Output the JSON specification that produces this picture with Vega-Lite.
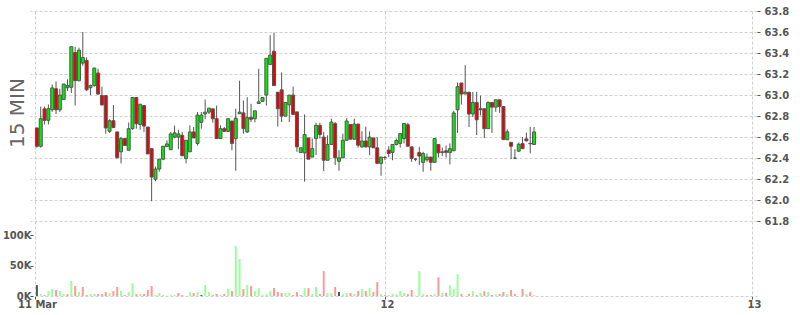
{
  "$schema": "https://vega.github.io/schema/vega-lite/v6.json",
  "width": 727,
  "height": 285,
  "autosize": {"type": "none"},
  "padding": {"left": 30, "top": 11, "right": 43, "bottom": 19},
  "background": "white",
  "config": {"view": {"stroke": null}},
  "data": {
    "values": [
      {"t":"2021-03-11 01:15","o":62.687,"h":62.69,"l":62.50,"c":62.513,"v":18000},
      {"t":"2021-03-11 01:30","o":62.513,"h":62.89,"l":62.50,"c":62.775,"v":3300},
      {"t":"2021-03-11 01:45","o":62.869,"h":62.89,"l":62.72,"c":62.759,"v":1600},
      {"t":"2021-03-11 02:00","o":62.76,"h":62.91,"l":62.72,"c":62.87,"v":8200},
      {"t":"2021-03-11 02:15","o":62.86,"h":63.10,"l":62.84,"c":63.068,"v":11500},
      {"t":"2021-03-11 02:30","o":63.06,"h":63.13,"l":62.82,"c":62.86,"v":9900},
      {"t":"2021-03-11 02:45","o":62.86,"h":63.06,"l":62.84,"c":63.0,"v":8200},
      {"t":"2021-03-11 03:00","o":62.957,"h":63.105,"l":62.957,"c":63.105,"v":3300},
      {"t":"2021-03-11 03:15","o":63.07,"h":63.15,"l":63.04,"c":63.09,"v":3300},
      {"t":"2021-03-11 03:30","o":63.074,"h":63.46,"l":63.02,"c":63.46,"v":25000},
      {"t":"2021-03-11 03:45","o":63.405,"h":63.46,"l":62.90,"c":63.137,"v":16500},
      {"t":"2021-03-11 04:00","o":63.137,"h":63.45,"l":63.13,"c":63.427,"v":6600},
      {"t":"2021-03-11 04:15","o":63.304,"h":63.60,"l":63.28,"c":63.357,"v":15000},
      {"t":"2021-03-11 04:30","o":63.33,"h":63.36,"l":63.04,"c":63.05,"v":1600},
      {"t":"2021-03-11 04:45","o":63.07,"h":63.10,"l":63.0,"c":63.09,"v":3300},
      {"t":"2021-03-11 05:00","o":63.09,"h":63.26,"l":63.08,"c":63.257,"v":3300},
      {"t":"2021-03-11 05:15","o":63.21,"h":63.25,"l":63.0,"c":63.01,"v":3300},
      {"t":"2021-03-11 05:30","o":62.995,"h":63.08,"l":62.90,"c":62.907,"v":3300},
      {"t":"2021-03-11 05:45","o":62.995,"h":62.995,"l":62.633,"c":62.687,"v":6600},
      {"t":"2021-03-11 06:00","o":62.655,"h":62.77,"l":62.64,"c":62.756,"v":5000},
      {"t":"2021-03-11 06:15","o":62.756,"h":62.905,"l":62.69,"c":62.69,"v":8200},
      {"t":"2021-03-11 06:30","o":62.649,"h":62.65,"l":62.40,"c":62.403,"v":15000},
      {"t":"2021-03-11 06:45","o":62.46,"h":62.60,"l":62.35,"c":62.586,"v":8200},
      {"t":"2021-03-11 07:00","o":62.586,"h":62.59,"l":62.52,"c":62.52,"v":1600},
      {"t":"2021-03-11 07:15","o":62.475,"h":62.74,"l":62.475,"c":62.68,"v":6600},
      {"t":"2021-03-11 07:30","o":62.68,"h":62.98,"l":62.67,"c":62.977,"v":21000},
      {"t":"2021-03-11 07:45","o":62.977,"h":62.977,"l":62.68,"c":62.728,"v":3300},
      {"t":"2021-03-11 08:00","o":62.72,"h":62.913,"l":62.67,"c":62.913,"v":3300},
      {"t":"2021-03-11 08:15","o":62.90,"h":62.90,"l":62.65,"c":62.705,"v":3300},
      {"t":"2021-03-11 08:30","o":62.696,"h":62.696,"l":62.44,"c":62.44,"v":9900},
      {"t":"2021-03-11 08:45","o":62.49,"h":62.49,"l":61.99,"c":62.22,"v":16500},
      {"t":"2021-03-11 09:00","o":62.20,"h":62.32,"l":62.18,"c":62.296,"v":1600},
      {"t":"2021-03-11 09:15","o":62.296,"h":62.39,"l":62.27,"c":62.39,"v":5000},
      {"t":"2021-03-11 09:30","o":62.39,"h":62.513,"l":62.38,"c":62.513,"v":1600},
      {"t":"2021-03-11 09:45","o":62.51,"h":62.57,"l":62.51,"c":62.535,"v":500},
      {"t":"2021-03-11 10:00","o":62.48,"h":62.65,"l":62.48,"c":62.63,"v":1600},
      {"t":"2021-03-11 10:15","o":62.60,"h":62.71,"l":62.59,"c":62.64,"v":1600},
      {"t":"2021-03-11 10:30","o":62.60,"h":62.67,"l":62.485,"c":62.63,"v":5000},
      {"t":"2021-03-11 10:45","o":62.617,"h":62.649,"l":62.42,"c":62.422,"v":1600},
      {"t":"2021-03-11 11:00","o":62.397,"h":62.57,"l":62.35,"c":62.57,"v":300},
      {"t":"2021-03-11 11:15","o":62.46,"h":62.712,"l":62.46,"c":62.649,"v":6600},
      {"t":"2021-03-11 11:30","o":62.649,"h":62.696,"l":62.59,"c":62.592,"v":5000},
      {"t":"2021-03-11 11:45","o":62.54,"h":62.838,"l":62.52,"c":62.81,"v":6600},
      {"t":"2021-03-11 12:00","o":62.74,"h":62.838,"l":62.68,"c":62.81,"v":1600},
      {"t":"2021-03-11 12:15","o":62.82,"h":62.957,"l":62.77,"c":62.838,"v":18000},
      {"t":"2021-03-11 12:30","o":62.838,"h":62.879,"l":62.82,"c":62.875,"v":6600},
      {"t":"2021-03-11 12:45","o":62.869,"h":62.869,"l":62.737,"c":62.775,"v":1600},
      {"t":"2021-03-11 13:00","o":62.775,"h":62.90,"l":62.586,"c":62.586,"v":3300},
      {"t":"2021-03-11 13:15","o":62.586,"h":62.712,"l":62.586,"c":62.68,"v":1600},
      {"t":"2021-03-11 13:30","o":62.68,"h":62.696,"l":62.649,"c":62.655,"v":3300},
      {"t":"2021-03-11 13:45","o":62.655,"h":62.775,"l":62.649,"c":62.775,"v":11500},
      {"t":"2021-03-11 14:00","o":62.753,"h":62.753,"l":62.475,"c":62.54,"v":8200},
      {"t":"2021-03-11 14:15","o":62.586,"h":62.87,"l":62.28,"c":62.78,"v":82000},
      {"t":"2021-03-11 14:30","o":62.822,"h":63.137,"l":62.822,"c":62.838,"v":61000},
      {"t":"2021-03-11 14:45","o":62.83,"h":62.948,"l":62.633,"c":62.68,"v":11500},
      {"t":"2021-03-11 15:00","o":62.649,"h":62.98,"l":62.64,"c":62.786,"v":18000},
      {"t":"2021-03-11 15:15","o":62.786,"h":62.917,"l":62.743,"c":62.77,"v":16500},
      {"t":"2021-03-11 15:30","o":62.775,"h":62.85,"l":62.74,"c":62.85,"v":8200},
      {"t":"2021-03-11 15:45","o":62.92,"h":63.25,"l":62.92,"c":62.935,"v":13000},
      {"t":"2021-03-11 16:00","o":62.94,"h":62.98,"l":62.94,"c":62.977,"v":1600},
      {"t":"2021-03-11 16:15","o":63.0,"h":63.35,"l":62.90,"c":63.35,"v":3300},
      {"t":"2021-03-11 16:30","o":63.29,"h":63.57,"l":63.29,"c":63.38,"v":8200},
      {"t":"2021-03-11 16:45","o":63.417,"h":63.594,"l":63.09,"c":63.09,"v":13000},
      {"t":"2021-03-11 17:00","o":63.027,"h":63.03,"l":62.70,"c":62.87,"v":6600},
      {"t":"2021-03-11 17:15","o":63.05,"h":63.216,"l":62.743,"c":62.80,"v":5000},
      {"t":"2021-03-11 17:30","o":62.80,"h":62.93,"l":62.80,"c":62.93,"v":5000},
      {"t":"2021-03-11 17:45","o":62.907,"h":63.0,"l":62.743,"c":63.0,"v":5000},
      {"t":"2021-03-11 18:00","o":63.0,"h":63.08,"l":62.816,"c":62.816,"v":1600},
      {"t":"2021-03-11 18:15","o":62.84,"h":62.84,"l":62.46,"c":62.507,"v":6600},
      {"t":"2021-03-11 18:30","o":62.454,"h":62.498,"l":62.454,"c":62.498,"v":1600},
      {"t":"2021-03-11 18:45","o":62.45,"h":62.816,"l":62.176,"c":62.624,"v":13000},
      {"t":"2021-03-11 19:00","o":62.592,"h":62.592,"l":62.39,"c":62.39,"v":13000},
      {"t":"2021-03-11 19:15","o":62.41,"h":62.586,"l":62.41,"c":62.49,"v":3300},
      {"t":"2021-03-11 19:30","o":62.586,"h":62.737,"l":62.43,"c":62.712,"v":15000},
      {"t":"2021-03-11 19:45","o":62.712,"h":62.737,"l":62.586,"c":62.624,"v":3300},
      {"t":"2021-03-11 20:00","o":62.60,"h":62.65,"l":62.277,"c":62.38,"v":41000},
      {"t":"2021-03-11 20:15","o":62.38,"h":62.617,"l":62.38,"c":62.53,"v":5000},
      {"t":"2021-03-11 20:30","o":62.53,"h":62.775,"l":62.53,"c":62.743,"v":5000},
      {"t":"2021-03-11 20:45","o":62.728,"h":62.743,"l":62.334,"c":62.403,"v":15000},
      {"t":"2021-03-11 21:00","o":62.37,"h":62.475,"l":62.28,"c":62.403,"v":6600},
      {"t":"2021-03-11 21:15","o":62.403,"h":62.633,"l":62.403,"c":62.57,"v":3300},
      {"t":"2021-03-11 21:30","o":62.57,"h":62.78,"l":62.57,"c":62.753,"v":5000},
      {"t":"2021-03-11 21:45","o":62.72,"h":62.72,"l":62.58,"c":62.58,"v":5000},
      {"t":"2021-03-11 22:00","o":62.58,"h":62.775,"l":62.58,"c":62.724,"v":3300},
      {"t":"2021-03-11 22:15","o":62.724,"h":62.724,"l":62.50,"c":62.523,"v":8200},
      {"t":"2021-03-11 22:30","o":62.507,"h":62.655,"l":62.498,"c":62.563,"v":11500},
      {"t":"2021-03-11 22:45","o":62.563,"h":62.70,"l":62.498,"c":62.507,"v":8200},
      {"t":"2021-03-11 23:00","o":62.507,"h":62.655,"l":62.428,"c":62.60,"v":13000},
      {"t":"2021-03-11 23:15","o":62.592,"h":62.592,"l":62.498,"c":62.498,"v":6600},
      {"t":"2021-03-11 23:30","o":62.498,"h":62.60,"l":62.35,"c":62.35,"v":23000},
      {"t":"2021-03-11 23:45","o":62.35,"h":62.41,"l":62.233,"c":62.41,"v":3300},
      {"t":"2021-03-12 00:00","o":62.406,"h":62.42,"l":62.38,"c":62.406,"v":1600},
      {"t":"2021-03-12 00:15","o":62.476,"h":62.513,"l":62.41,"c":62.444,"v":1600},
      {"t":"2021-03-12 00:30","o":62.454,"h":62.53,"l":62.38,"c":62.53,"v":3300},
      {"t":"2021-03-12 00:45","o":62.53,"h":62.586,"l":62.52,"c":62.567,"v":3000},
      {"t":"2021-03-12 01:00","o":62.54,"h":62.633,"l":62.50,"c":62.633,"v":8200},
      {"t":"2021-03-12 01:15","o":62.586,"h":62.73,"l":62.54,"c":62.73,"v":5000},
      {"t":"2021-03-12 01:30","o":62.718,"h":62.737,"l":62.513,"c":62.513,"v":3300},
      {"t":"2021-03-12 01:45","o":62.507,"h":62.507,"l":62.365,"c":62.397,"v":9900},
      {"t":"2021-03-12 02:00","o":62.39,"h":62.40,"l":62.37,"c":62.39,"v":500},
      {"t":"2021-03-12 02:15","o":62.454,"h":62.507,"l":62.334,"c":62.42,"v":41000},
      {"t":"2021-03-12 02:30","o":62.36,"h":62.46,"l":62.27,"c":62.444,"v":3300},
      {"t":"2021-03-12 02:45","o":62.384,"h":62.444,"l":62.365,"c":62.41,"v":1600},
      {"t":"2021-03-12 03:00","o":62.41,"h":62.41,"l":62.28,"c":62.36,"v":1600},
      {"t":"2021-03-12 03:15","o":62.36,"h":62.586,"l":62.36,"c":62.586,"v":3300},
      {"t":"2021-03-12 03:30","o":62.53,"h":62.53,"l":62.406,"c":62.45,"v":31000},
      {"t":"2021-03-12 03:45","o":62.454,"h":62.50,"l":62.42,"c":62.46,"v":5000},
      {"t":"2021-03-12 04:00","o":62.47,"h":62.52,"l":62.406,"c":62.454,"v":5000},
      {"t":"2021-03-12 04:15","o":62.454,"h":62.54,"l":62.34,"c":62.49,"v":18000},
      {"t":"2021-03-12 04:30","o":62.47,"h":62.85,"l":62.47,"c":62.83,"v":11500},
      {"t":"2021-03-12 04:45","o":62.86,"h":63.12,"l":62.64,"c":63.08,"v":36000},
      {"t":"2021-03-12 05:00","o":63.115,"h":63.115,"l":62.91,"c":63.01,"v":3300},
      {"t":"2021-03-12 05:15","o":63.01,"h":63.285,"l":63.01,"c":63.027,"v":300},
      {"t":"2021-03-12 05:30","o":63.027,"h":63.027,"l":62.696,"c":62.82,"v":3300},
      {"t":"2021-03-12 05:45","o":62.82,"h":63.03,"l":62.79,"c":62.93,"v":8200},
      {"t":"2021-03-12 06:00","o":62.93,"h":63.03,"l":62.62,"c":62.765,"v":1600},
      {"t":"2021-03-12 06:15","o":62.87,"h":62.995,"l":62.806,"c":62.86,"v":5000},
      {"t":"2021-03-12 06:30","o":62.87,"h":62.87,"l":62.59,"c":62.68,"v":8200},
      {"t":"2021-03-12 06:45","o":62.68,"h":62.94,"l":62.68,"c":62.93,"v":6600},
      {"t":"2021-03-12 07:00","o":62.93,"h":62.93,"l":62.64,"c":62.885,"v":1600},
      {"t":"2021-03-12 07:15","o":62.885,"h":62.955,"l":62.84,"c":62.955,"v":3300},
      {"t":"2021-03-12 07:30","o":62.955,"h":62.955,"l":62.83,"c":62.89,"v":3300},
      {"t":"2021-03-12 07:45","o":62.89,"h":62.89,"l":62.576,"c":62.576,"v":6600},
      {"t":"2021-03-12 08:00","o":62.576,"h":62.674,"l":62.57,"c":62.65,"v":3300},
      {"t":"2021-03-12 08:15","o":62.55,"h":62.55,"l":62.39,"c":62.513,"v":9900},
      {"t":"2021-03-12 08:30","o":62.40,"h":62.485,"l":62.39,"c":62.40,"v":3300},
      {"t":"2021-03-12 08:45","o":62.466,"h":62.548,"l":62.46,"c":62.532,"v":300},
      {"t":"2021-03-12 09:00","o":62.538,"h":62.60,"l":62.49,"c":62.49,"v":11500},
      {"t":"2021-03-12 09:15","o":62.583,"h":62.643,"l":62.56,"c":62.564,"v":3300},
      {"t":"2021-03-12 09:30","o":62.54,"h":62.696,"l":62.444,"c":62.537,"v":6600},
      {"t":"2021-03-12 09:45","o":62.53,"h":62.696,"l":62.53,"c":62.649,"v":1600}
    ],
    "format": {"parse": {"t": "utc:'%Y-%m-%d %H:%M'"}}
  },
  "encoding": {
    "x": {
      "field": "t",
      "type": "temporal",
      "scale": {
        "type": "utc",
        "domain": [
          {"year": 2021, "month": 3, "date": 11, "hours": 1, "minutes": 7, "seconds": 30, "utc": true},
          {"year": 2021, "month": 3, "date": 13, "utc": true}
        ]
      },
      "axis": {
        "title": null,
        "orient": "bottom",
        "values": [
          {"year": 2021, "month": 3, "date": 11, "hours": 1, "minutes": 7, "seconds": 30, "utc": true},
          {"year": 2021, "month": 3, "date": 12, "utc": true},
          {"year": 2021, "month": 3, "date": 13, "utc": true}
        ],
        "labelExpr": "utcdate(datum.value) === 11 ? '11 Mar' : '' + utcdate(datum.value)",
        "labelFlush": false,
        "labelOverlap": false,
        "labelFont": "DejaVu Sans",
        "labelFontWeight": "bold",
        "labelFontSize": 10,
        "labelColor": "#555555",
        "labelPadding": 0,
        "labelOffset": 2,
        "tickSize": 3,
        "tickColor": "#555555",
        "grid": true,
        "gridColor": "#d0d0d0",
        "gridDash": [3, 2],
        "domain": true,
        "domainColor": "#d0d0d0",
        "domainDash": [3, 2]
      }
    }
  },
  "layer": [
    {
      "encoding": {
        "y": {
          "field": "l",
          "type": "quantitative",
          "scale": {"domain": [61.088, 63.8], "zero": false, "nice": false},
          "axis": {
            "title": null,
            "orient": "right",
            "values": [61.8, 62.0, 62.2, 62.4, 62.6, 62.8, 63.0, 63.2, 63.4, 63.6, 63.8],
            "format": ".1f",
            "grid": true,
            "gridColor": "#d0d0d0",
            "gridDash": [3, 2],
            "domain": false,
            "tickSize": 3,
            "tickColor": "#555555",
            "labelPadding": 4,
            "labelFont": "DejaVu Sans",
            "labelFontWeight": "bold",
            "labelFontSize": 10,
            "labelColor": "#555555"
          }
        }
      },
      "layer": [
        {
          "mark": {"type": "rule", "color": "#555555", "strokeWidth": 1},
          "encoding": {
            "y2": {"field": "h"}
          }
        },
        {
          "mark": {"type": "bar", "size": 3, "stroke": "#555555", "strokeWidth": 1},
          "encoding": {
            "y": {"field": "o", "type": "quantitative"},
            "y2": {"field": "c"},
            "fill": {"condition": {"test": "datum.c >= datum.o", "value": "#00ee00"}, "value": "#ee0000"}
          }
        }
      ]
    },
    {
      "transform": [
        {"window": [{"op": "lag", "field": "c", "param": 1, "as": "pc"}], "sort": [{"field": "t", "order": "ascending"}]}
      ],
      "mark": {"type": "bar", "size": 2},
      "encoding": {
        "y": {
          "field": "v",
          "type": "quantitative",
          "scale": {"domain": [0, 470000], "zero": true, "nice": false},
          "axis": {
            "orient": "left",
            "values": [0, 50000, 100000],
            "labelExpr": "(datum.value / 1000) + 'K'",
            "grid": false,
            "domain": false,
            "tickSize": -3,
            "tickColor": "#555555",
            "labelPadding": 2,
            "labelFont": "DejaVu Sans",
            "labelFontWeight": "bold",
            "labelFontSize": 10,
            "labelColor": "#555555",
            "title": "15 MIN",
            "titleFont": "DejaVu Sans",
            "titleFontWeight": "normal",
            "titleFontSize": 20,
            "titleColor": "#666666",
            "titleAngle": -90,
            "titleX": -7,
            "titleY": 101.5,
            "titleAlign": "center",
            "titleBaseline": "alphabetic"
          }
        },
        "fill": {
          "condition": [
            {"test": "datum.pc == null || datum.c == datum.pc", "value": "#555555"},
            {"test": "datum.c > datum.pc", "value": "#99ff99"}
          ],
          "value": "#ff9999"
        }
      }
    }
  ],
  "resolve": {"scale": {"y": "independent"}, "axis": {"y": "independent"}}
}
